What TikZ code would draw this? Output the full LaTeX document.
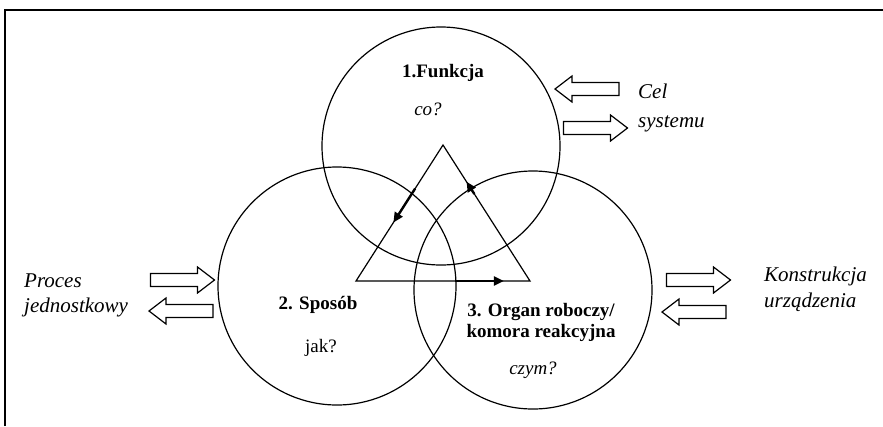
\documentclass[tikz,border=0pt]{standalone}
\usepackage{fontspec}
\setmainfont{Liberation Serif}
\usetikzlibrary{arrows.meta,calc}
\begin{document}
\begin{tikzpicture}[x=1pt,y=-1pt,
  ring/.style={circle,draw,line width=1.2pt,minimum size=238pt,inner sep=0pt},
  tri/.style={line width=1.2pt,line join=miter},
  flowarr/.style={line width=2.4pt,-{Triangle[length=10pt,width=9pt]}},
  head/.style={font=\fontsize{19}{22}\selectfont\bfseries,inner sep=0pt,anchor=base},
  ask/.style={font=\fontsize{19}{22}\selectfont\itshape,inner sep=0pt,anchor=base},
  side/.style={font=\fontsize{21}{24}\selectfont\itshape,inner sep=0pt,anchor=base west},
  blockarr/.pic={\draw[line width=1.2pt,line join=miter,fill=white]
     (-32,-6.5) -- (15,-6.5) -- (15,-13) -- (32,0) -- (15,13) -- (15,6.5) -- (-32,6.5) -- cycle;}
]
\useasboundingbox (0,0) rectangle (883,426);
\draw[line width=2pt] (5,426) -- (5,10) -- (883,10);

% circles
\node[ring] (c1) at (441,146) {};
\node[ring] (c2) at (337,286) {};
\node[ring] (c3) at (533,290) {};

% triangle
\coordinate (A) at (443,145);
\coordinate (B) at (356,281);
\coordinate (C) at (530,281);
\draw[tri] (A) -- (B) -- (C) -- cycle;
\draw[flowarr] ($(A)!0.32!(B)$) -- ($(A)!0.57!(B)$);
\draw[flowarr] ($(C)!0.64!(A)$) -- ($(C)!0.73!(A)$);
\draw[flowarr] ($(B)!0.57!(C)$) -- ($(B)!0.85!(C)$);

% texts in circles
\node[head] (t1) at (443,77) {1.Funkcja};
\node[ask] (q1) at (428,115) {co?};
\node[head] (t2) at (318,309) {2. Sposób};
\node[font=\fontsize{19}{22}\selectfont,inner sep=0pt,anchor=base] (q2) at (321,352) {jak?};
\node[head] (t3a) at (541,316) {3. Organ roboczy/};
\node[head] (t3b) at (541,337) {komora reakcyjna};
\node[ask] (q3) at (533,374) {czym?};

% side labels
\node[side] (s1a) at (638,98) {Cel};
\node[side] (s1b) at (638,127) {systemu};
\node[side] (s2a) at (24,287) {Proces};
\node[side] (s2b) at (24,312) {jednostkowy};
\node[side] (s3a) at (764,281) {Konstrukcja};
\node[side] (s3b) at (764,307) {urządzenia};

% block arrows
\pic[rotate=180] (a1) at (587,89) {blockarr};
\pic (a2) at (595.5,128) {blockarr};
\pic (a3) at (182.5,280) {blockarr};
\pic[rotate=180] (a4) at (181,311) {blockarr};
\pic (a5) at (698.5,280) {blockarr};
\pic[rotate=180] (a6) at (694,312) {blockarr};
\end{tikzpicture}
\end{document}
